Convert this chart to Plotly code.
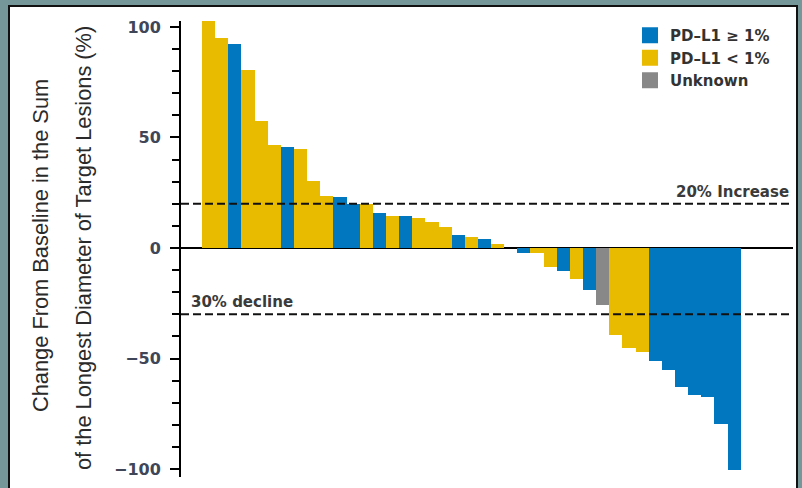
import plotly.graph_objects as go

# Best percentage change in target lesion size per patient (waterfall order)
patients = list(range(1, 42))
change_pct = [103, 95.2, 92.4, 80.5, 57.5, 46.7, 45.8, 44.9, 30.3, 23.7,
              23.3, 20.0, 19.7, 15.8, 14.6, 14.6, 13.7, 11.9, 9.6, 5.9,
              4.8, 3.9, 1.8, 0.0, -2.4, -2.4, -8.4, -10.3, -14.2, -19.2,
              -25.8, -39.5, -45.2, -47.2, -51.1, -55.1, -62.7, -66.7, -67.6, -79.4,
              -100.5]
pdl1_status = ["lt", "lt", "ge", "lt", "lt", "lt", "ge", "lt", "lt", "lt",
               "ge", "ge", "lt", "ge", "lt", "ge", "lt", "lt", "lt", "ge",
               "lt", "ge", "lt", "lt", "ge", "lt", "lt", "ge", "lt", "ge",
               "unk", "lt", "lt", "lt", "ge", "ge", "ge", "ge", "ge", "ge",
               "ge"]

groups = ["ge", "lt", "unk"]
group_labels = {"ge": "PD\u2013L1 \u2265 1%", "lt": "PD\u2013L1 < 1%", "unk": "Unknown"}
group_colors = {"ge": "#0077BF", "lt": "#E8BA00", "unk": "#888888"}

reference_lines = [20, -30]
y_ticks = [-100, -50, 0, 50, 100]

W, H = 802, 488
ML, MR, MT, MB = 181, 9, 21, 11
PW, PH = W - ML - MR, H - MT - MB


def px_x(p):
    return (p - ML) / PW


def px_y(p):
    return 1 - (p - MT) / PH


fig = go.Figure()

idx = list(range(len(patients)))
for g in groups:
    xs = [i for i in idx if pdl1_status[i] == g]
    ys = [change_pct[i] for i in xs]
    fig.add_trace(go.Bar(x=xs, y=ys, marker=dict(color=group_colors[g], line=dict(width=0)),
                         showlegend=False, name=group_labels[g]))

# legend entries with larger square swatches
for g in groups:
    fig.add_trace(go.Scatter(x=[None], y=[None], mode="markers", name=group_labels[g],
                             marker=dict(symbol="square", size=16, color=group_colors[g])))

tick_font = dict(family="DejaVu Sans", size=16, color="#3f4658", weight="bold")

fig.update_layout(
    width=W, height=H,
    margin=dict(l=ML, r=MR, t=MT, b=MB, pad=0),
    paper_bgcolor="#76979a",
    plot_bgcolor="rgba(0,0,0,0)",
    bargap=0,
    barmode="overlay",
    showlegend=True,
    legend=dict(x=px_x(630), y=px_y(19), xanchor="left", yanchor="top",
                bgcolor="rgba(0,0,0,0)", borderwidth=0,
                font=dict(family="DejaVu Sans", size=15, color="#333333", weight="bold"),
                tracegroupgap=0),
    xaxis=dict(visible=False, range=[-2.1, 44.48]),
    yaxis=dict(range=[-103.6, 102.7], tickvals=y_ticks,
               ticks="outside", ticklen=9, tickwidth=1.5, tickcolor="black",
               ticklabelstandoff=6,
               showline=True, linecolor="black", linewidth=2,
               showgrid=False, zeroline=True, zerolinecolor="black", zerolinewidth=1.5,
               tickfont=tick_font,
               minor=dict(dtick=10, ticks="outside", ticklen=7, tickwidth=1.5,
                          tickcolor="black", showgrid=False)),
)

# white page with dark frame
fig.add_shape(type="rect", xref="paper", yref="paper",
              x0=px_x(9), x1=px_x(797), y0=px_y(6), y1=px_y(500),
              fillcolor="white", line=dict(color="#111111", width=2), layer="below")

for yv in reference_lines:
    fig.add_shape(type="line", xref="paper", yref="y", x0=0, x1=1, y0=yv, y1=yv,
                  line=dict(color="#111111", width=2, dash="8px,4px"), layer="above")

ann_font = dict(family="DejaVu Sans", size=15, color="#3a3a3a", weight="bold")
fig.add_annotation(text="20% Increase", xref="paper", yref="y", x=px_x(791), y=25.5,
                   xanchor="right", yanchor="middle", showarrow=False, font=ann_font)
fig.add_annotation(text="30% decline", xref="paper", yref="y", x=px_x(189), y=-24.4,
                   xanchor="left", yanchor="middle", showarrow=False, font=ann_font)

title_font = dict(family="Liberation Sans, Arial", size=21.8, color="#2a2a2a")
fig.add_annotation(text="Change From Baseline in the Sum", xref="paper", yref="paper",
                   x=px_x(40), y=px_y(246), textangle=-90, showarrow=False,
                   xanchor="center", yanchor="middle", font=title_font)
fig.add_annotation(text="of the Longest Diameter of Target Lesions (%)", xref="paper", yref="paper",
                   x=px_x(84), y=px_y(248), textangle=-90, showarrow=False,
                   xanchor="center", yanchor="middle", font=title_font)

fig.write_html("out.html")
